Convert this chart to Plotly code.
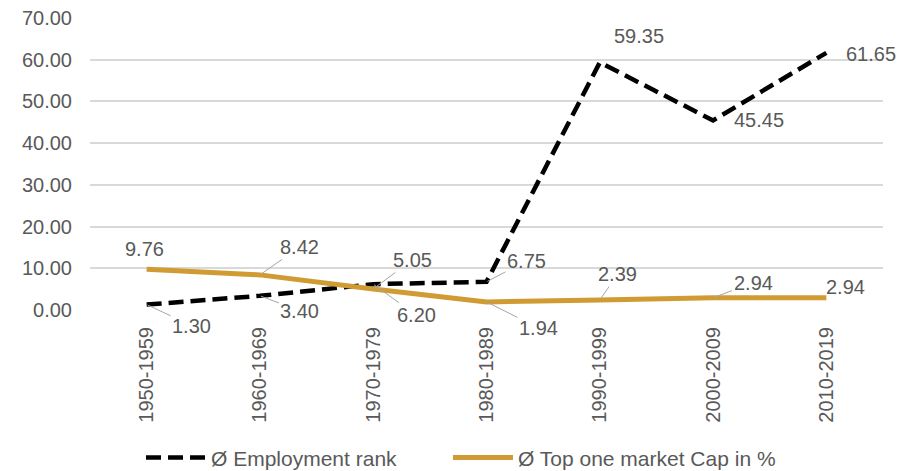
import plotly.graph_objects as go

categories = ["1950-1959", "1960-1969", "1970-1979", "1980-1989", "1990-1999", "2000-2009", "2010-2019"]
employment_rank = [1.30, 3.40, 6.20, 6.75, 59.35, 45.45, 61.65]
top_market_cap = [9.76, 8.42, 5.05, 1.94, 2.39, 2.94, 2.94]
y_ticks = [0, 10, 20, 30, 40, 50, 60, 70]

# label placement (pixel offset of label centre from point, leader line?)
emp_label_pos = [(45, 21, True), (40, 15, True), (43, 31, True), (40, -21, True),
                 (39, -26, False), (46, 0, False), (45, 1, False)]
cap_label_pos = [(-2, -20, False), (40, -28, True), (39, -29, True), (52, 26, True),
                 (18, -26, True), (40, -15, True), (19, -11, False)]

FONT = "Liberation Sans, Arial, sans-serif"
TXT = "#595959"
GOLD = "#D09B32"

fig = go.Figure()
fig.add_trace(go.Scatter(
    x=categories, y=employment_rank, mode="lines", name="Ø Employment rank",
    line=dict(color="black", width=4.5, dash="15px,7px"), legend="legend",
))
fig.add_trace(go.Scatter(
    x=categories, y=top_market_cap, mode="lines", name="Ø Top one market Cap in %",
    line=dict(color=GOLD, width=5), legend="legend2",
))

annotations = []
for series, pos in ((employment_rank, emp_label_pos), (top_market_cap, cap_label_pos)):
    for cat, val, (dx, dy, leader) in zip(categories, series, pos):
        annotations.append(dict(
            x=cat, y=val, xref="x", yref="y", text=f"{val:.2f}",
            showarrow=True, ax=dx, ay=dy, arrowhead=0, arrowwidth=1,
            arrowcolor="#A6A6A6" if leader else "rgba(0,0,0,0)",
            standoff=1,
            font=dict(family=FONT, size=20, color=TXT),
        ))

legend_common = dict(orientation="h", xanchor="left", xref="container",
                     yref="container", y=0.028, yanchor="middle",
                     font=dict(family=FONT, size=21, color=TXT), itemwidth=60,
                     bgcolor="rgba(0,0,0,0)")

fig.update_layout(
    width=905, height=471,
    margin=dict(l=90, r=22, t=18, b=161, autoexpand=False),
    paper_bgcolor="white", plot_bgcolor="white",
    font=dict(family=FONT, size=20, color=TXT),
    showlegend=True,
    legend=dict(x=141 / 905, **legend_common),
    legend2=dict(x=448 / 905, **legend_common),
    annotations=annotations,
)
fig.update_xaxes(
    type="category", range=[-0.5, 6.5], tickangle=-90, showgrid=False,
    showline=False, zeroline=False, ticks="", ticklabelstandoff=12,
    automargin=False,
    tickfont=dict(family=FONT, size=20, color=TXT),
)
fig.update_yaxes(
    range=[0, 70], tickvals=y_ticks, tickformat=".2f",
    showgrid=True, gridcolor="#D9D9D9", gridwidth=1.5, zeroline=False,
    showline=False, ticks="", ticklabelstandoff=17, automargin=False,
    tickfont=dict(family=FONT, size=20, color=TXT),
)

fig.write_html("out.html")
